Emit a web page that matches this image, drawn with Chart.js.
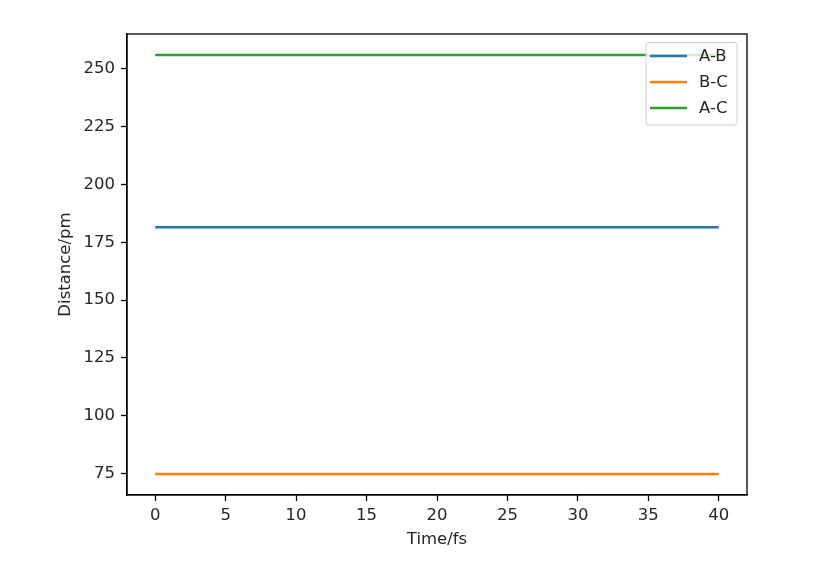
<!DOCTYPE html>
<html>
<head>
<meta charset="utf-8">
<title>Distance vs Time</title>
<script src="https://cdn.jsdelivr.net/npm/chart.js@4/dist/chart.umd.min.js"></script>
<style>
    body { margin: 0; background: #fff; }
    canvas { display: block; }
</style>
</head>
<body>
<canvas id="distChart" width="824" height="565"></canvas>
<script>
// Data
const timeFs = [0, 5, 10, 15, 20, 25, 30, 35, 40];
const distAB = [181.5, 181.5, 181.5, 181.5, 181.5, 181.5, 181.5, 181.5, 181.5];
const distBC = [74.8, 74.8, 74.8, 74.8, 74.8, 74.8, 74.8, 74.8, 74.8];
const distAC = [256.0, 256.0, 256.0, 256.0, 256.0, 256.0, 256.0, 256.0, 256.0];
const xTicks = [0, 5, 10, 15, 20, 25, 30, 35, 40];
const yTicks = [75, 100, 125, 150, 175, 200, 225, 250];

const FONT = 'DejaVu Sans';
const TEXT = '#262626';

function toPoints(ys) {
    return timeFs.map((t, i) => ({ x: t, y: ys[i] }));
}

function line(label, ys, color) {
    return {
        label: label,
        data: toPoints(ys),
        borderColor: color,
        backgroundColor: color,
        borderWidth: 2.6,
        pointRadius: 0,
        tension: 0,
        fill: false
    };
}

// Matplotlib-like frame (top/right spines) and legend box in the upper right
const mplFrame = {
    id: 'mplFrame',
    afterDatasetsDraw(chart) {
        const ctx = chart.ctx;
        const a = chart.chartArea;
        ctx.save();
        ctx.strokeStyle = '#000';
        ctx.lineWidth = 1.3;
        ctx.strokeRect(a.left, a.top, a.right - a.left, a.bottom - a.top);

        // legend
        const bx = 646, by = 42.5, bw = 91, bh = 82.5;
        ctx.beginPath();
        ctx.roundRect(bx, by, bw, bh, 3);
        ctx.fillStyle = 'rgba(255,255,255,0.8)';
        ctx.fill();
        ctx.strokeStyle = '#d0d0d0';
        ctx.lineWidth = 1;
        ctx.stroke();

        ctx.font = '16.5px "' + FONT + '"';
        ctx.textBaseline = 'middle';
        ctx.textAlign = 'left';
        chart.data.datasets.forEach((ds, i) => {
            const y = 56 + i * 26;
            ctx.beginPath();
            ctx.moveTo(650, y);
            ctx.lineTo(687, y);
            ctx.strokeStyle = ds.borderColor;
            ctx.lineWidth = 2.6;
            ctx.stroke();
            ctx.fillStyle = TEXT;
            ctx.fillText(ds.label, 699, y + 1);
        });
        ctx.restore();
    }
};

const whiteBg = {
    id: 'whiteBg',
    beforeDraw(chart) {
        const ctx = chart.ctx;
        ctx.save();
        ctx.fillStyle = '#fff';
        ctx.fillRect(0, 0, chart.width, chart.height);
        ctx.restore();
    }
};

const ctx = document.getElementById('distChart').getContext('2d');
new Chart(ctx, {
    type: 'line',
    data: {
        datasets: [
            line('A-B', distAB, '#1f77b4'),
            line('B-C', distBC, '#ff7f0e'),
            line('A-C', distAC, '#2ca02c')
        ]
    },
    options: {
        responsive: false,
        animation: false,
        layout: { padding: { left: 0, top: 34, right: 77, bottom: 0 } },
        plugins: {
            legend: { display: false },
            tooltip: { enabled: false }
        },
        scales: {
            x: {
                type: 'linear',
                min: -2,
                max: 42,
                afterBuildTicks: (scale) => {
                    scale.ticks = xTicks.map(v => ({ value: v }));
                },
                afterFit: (scale) => { scale.height = 70; },
                grid: {
                    drawOnChartArea: false,
                    tickLength: 6,
                    tickColor: '#000',
                    tickWidth: 1.3
                },
                border: { color: '#000', width: 1.3 },
                ticks: {
                    padding: 5,
                    color: TEXT,
                    maxRotation: 0,
                    font: { family: FONT, size: 16.5 }
                },
                title: {
                    display: true,
                    text: 'Time/fs',
                    color: TEXT,
                    padding: { top: 0, bottom: 15 },
                    font: { family: FONT, size: 16.5 }
                }
            },
            y: {
                type: 'linear',
                min: 65.7,
                max: 265.1,
                afterBuildTicks: (scale) => {
                    scale.ticks = yTicks.map(v => ({ value: v }));
                },
                afterFit: (scale) => { scale.width = 127; },
                grid: {
                    drawOnChartArea: false,
                    tickLength: 6,
                    tickColor: '#000',
                    tickWidth: 1.3
                },
                border: { color: '#000', width: 1.3 },
                ticks: {
                    padding: 6,
                    color: TEXT,
                    font: { family: FONT, size: 16.5 }
                },
                title: {
                    display: true,
                    text: 'Distance/pm',
                    color: TEXT,
                    padding: { top: 56, bottom: 0 },
                    font: { family: FONT, size: 16.5 }
                }
            }
        }
    },
    plugins: [whiteBg, mplFrame]
});
</script>
</body>
</html>
